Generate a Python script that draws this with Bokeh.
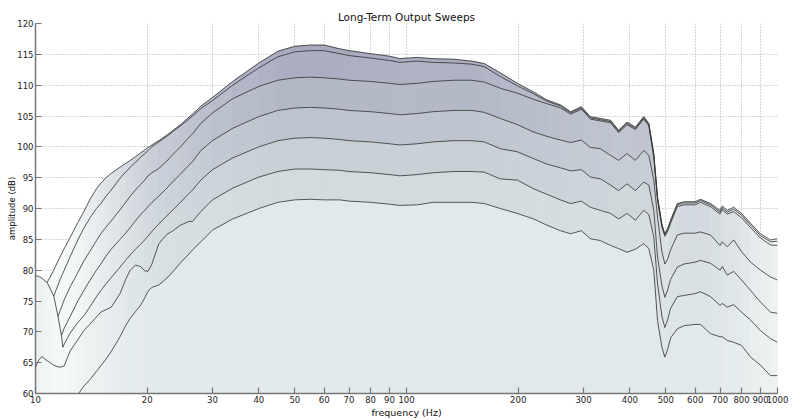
import numpy as np
from bokeh.plotting import figure
from bokeh.models import FixedTicker
from bokeh.embed import file_html
from bokeh.resources import INLINE

# ---------------- data ----------------
freq_hz = [10, 10.2, 10.4, 10.75, 11.2, 11.5, 11.75, 11.85, 11.95, 12.4,
           13.0, 13.5, 14.0, 14.6, 15.0, 15.5, 16.0, 16.9, 17.5, 18.0,
           18.6, 19.2, 19.7, 20.1, 20.6, 21.5, 22.6, 23.5, 24.6, 25.9,
           26.5, 27.9, 30, 34, 40, 45, 50, 55, 60, 66,
           70, 80, 90, 96, 107, 118, 134, 150, 162, 179,
           199, 220, 239, 260, 277, 296, 313, 333, 355, 373,
           393, 414, 436, 450, 464, 475, 488, 497, 506, 515,
           537, 560, 600, 620, 660, 700, 710, 732, 762, 800,
           846, 900, 957, 1000]

sweep_1 = [79.1, 79.0, 78.7, 78.0, 80.0, 81.5, 82.6, 83.1, 83.5, 85.3,
           87.7, 89.5, 91.4, 93.2, 94.1, 95.0, 95.7, 96.7, 97.3, 97.8,
           98.4, 99.0, 99.5, 99.9, 100.3, 101.0, 101.9, 102.7, 103.6, 104.8,
           105.3, 106.6, 108.0, 110.6, 113.6, 115.5, 116.3, 116.5, 116.5, 115.9,
           115.6, 115.1, 114.7, 114.3, 114.5, 114.3, 114.2, 113.9, 113.5, 112.0,
           110.3, 108.9, 107.6, 106.8, 105.7, 106.5, 104.9, 104.6, 104.3, 102.7,
           104.0, 103.2, 104.9, 103.8, 98.9, 91.9, 87.5, 85.9, 86.8, 88.1,
           90.8, 91.1, 91.1, 91.5, 90.8, 89.7, 90.4, 89.7, 90.2, 89.2,
           87.6, 85.9, 84.9, 85.1]

sweep_2 = [79.1, 79.0, 78.7, 78.0, 75.8, 77.6, 79.0, 79.5, 80.0, 82.2,
           84.9, 86.8, 88.4, 90.0, 90.8, 92.0, 93.0, 94.9, 95.9, 96.7,
           97.5, 98.3, 98.9, 99.4, 100.0, 100.8, 101.7, 102.5, 103.4, 104.5,
           105.0, 106.2, 107.5, 110.0, 112.8, 114.6, 115.4, 115.6, 115.6, 115.1,
           114.8, 114.4, 114.0, 113.7, 113.9, 113.7, 113.6, 113.4, 113.0, 111.4,
           109.9, 108.6, 107.4, 106.6, 105.5, 106.3, 104.7, 104.4, 104.1, 102.5,
           103.8, 103.0, 104.7, 103.6, 98.6, 91.6, 87.2, 85.7, 86.6, 87.9,
           90.6, 90.9, 90.9, 91.3, 90.6, 89.4, 90.1, 89.4, 89.9, 88.9,
           87.3, 85.6, 84.6, 84.7]

sweep_3 = [79.1, 79.0, 78.7, 78.0, 75.8, 72.5, 74.0, 74.6, 75.2, 77.3,
           79.6, 81.5, 83.0, 84.8, 85.9, 87.0, 88.0, 89.8, 91.0, 92.0,
           93.0, 93.9, 94.6, 95.3, 95.8, 96.5, 97.7, 98.8, 100.0, 101.5,
           102.1, 103.8, 105.5, 107.8, 109.8, 110.8, 111.2, 111.3, 111.2, 111.0,
           110.8, 110.6, 110.3, 110.1, 110.3, 110.6, 110.8, 110.8, 110.5, 109.5,
           108.7, 107.7, 107.0, 106.3, 105.3, 106.1, 104.5, 104.2, 103.9, 102.3,
           103.6, 102.8, 104.5, 103.4, 98.3, 91.3, 87.0, 85.5, 86.3, 87.6,
           90.3, 90.6, 90.6, 91.0, 90.3, 89.1, 89.8, 89.1, 89.5, 88.5,
           86.9, 85.2, 84.1, 84.0]

sweep_4 = [79.1, 79.0, 78.7, 78.0, 75.8, 72.5, 69.4, 70.0, 70.6, 72.5,
           75.0, 76.7, 78.3, 80.0, 81.0, 82.3, 83.4, 85.0, 86.0, 86.9,
           88.0, 89.0, 89.7, 90.3, 91.0, 92.0, 93.3, 94.4, 95.6, 97.0,
           97.6, 99.4, 101.0, 103.0, 104.9, 105.9, 106.3, 106.4, 106.3, 106.1,
           105.9, 105.7, 105.4, 105.2, 105.4, 105.7, 105.9, 105.9, 105.6, 104.6,
           103.6, 102.4, 101.7, 101.1, 100.7, 101.1, 99.9, 99.7, 98.6, 97.8,
           98.9, 97.8, 99.4, 98.6, 94.6, 88.6, 83.0, 81.0, 81.8, 83.3,
           85.7, 86.0, 86.0, 86.2, 85.7, 84.0, 84.6, 83.8, 84.9, 83.0,
           81.3, 80.0, 78.9, 78.4]

sweep_5 = [79.1, 79.0, 78.7, 78.0, 75.8, 72.5, 69.4, 67.5, 68.0, 69.8,
           71.5, 72.6, 74.0, 75.7, 76.7, 77.8, 78.8, 80.5, 81.6, 82.5,
           83.4, 84.2, 84.9, 85.5, 86.3, 87.5, 88.8, 89.8, 91.0, 92.4,
           93.0, 94.6, 96.3, 98.2, 100.0, 101.0, 101.4, 101.5, 101.4, 101.2,
           101.0, 100.8, 100.5, 100.3, 100.5, 100.8, 101.0, 101.0, 100.8, 99.7,
           99.2, 98.1, 97.2, 96.6, 96.1, 96.3, 95.1, 94.8, 93.8, 92.9,
           94.0, 92.9, 94.3, 93.8, 89.7, 82.1, 77.5, 75.6, 76.8, 78.5,
           80.5, 81.0, 81.3, 81.6, 81.1, 80.0, 80.6, 79.2, 79.8, 78.4,
           76.7, 74.8, 73.2, 73.0]

sweep_6 = [64.2, 65.4, 66.0, 65.3, 64.6, 64.3, 64.3, 64.4, 64.5, 66.9,
           68.7, 70.2, 71.2, 72.4, 73.2, 73.6, 74.0, 76.2, 78.5, 80.0,
           80.8, 80.6, 79.9, 79.8, 81.0, 84.3, 85.8, 86.4, 87.3, 87.9,
           87.9, 89.5, 91.4, 93.3, 95.1, 96.0, 96.4, 96.4, 96.3, 96.2,
           96.0, 95.8, 95.5, 95.3, 95.5, 95.8, 96.0, 96.0, 95.9, 94.8,
           94.6, 93.2, 92.3, 91.4, 90.8, 91.2, 90.2, 89.7, 89.2, 88.3,
           89.2, 88.1, 89.7, 89.0, 85.4, 77.8, 72.5, 70.7, 72.0, 73.8,
           75.7, 75.9, 76.2, 76.5, 75.7, 74.3, 74.6, 74.0, 74.4, 73.2,
           71.9, 70.2, 68.9, 68.3]

sweep_7 = [52.0, 52.5, 53.0, 54.0, 55.0, 55.8, 56.3, 56.5, 56.8, 58.3,
           59.8, 61.2, 62.2, 63.6, 64.5, 65.6, 66.8, 69.2, 71.0, 72.2,
           73.3, 74.3, 75.5, 76.6, 77.2, 77.6, 78.7, 79.8, 81.2, 82.6,
           83.3, 84.6, 86.5, 88.3, 90.0, 91.0, 91.4, 91.5, 91.4, 91.4,
           91.2, 91.0, 90.7, 90.5, 90.6, 91.0, 91.0, 91.0, 90.8, 90.0,
           89.2, 88.3, 87.3, 86.4, 85.9, 86.4, 85.1, 84.8, 84.0, 83.5,
           82.9, 83.4, 84.3, 83.5, 80.0, 71.8, 67.5, 65.9, 67.2, 69.0,
           70.5, 71.0, 71.2, 71.2, 69.7, 69.2, 69.2, 68.6, 68.3, 67.8,
           65.9, 64.6, 62.9, 62.9]

sweeps = [sweep_1, sweep_2, sweep_3, sweep_4, sweep_5, sweep_6, sweep_7]
x_ticks = [10, 20, 30, 40, 50, 60, 70, 80, 90, 100,
           200, 300, 400, 500, 600, 700, 800, 900, 1000]
y_ticks = [60, 65, 70, 75, 80, 85, 90, 95, 100, 105, 110, 115, 120]

# ---------------- style ----------------
FONT = "DejaVu Sans"
W, H = 800, 420
B_LEFT, B_RIGHT, B_TOP, B_BOTTOM = 35, 23, 23, 27

base_rgb = [(167, 169, 189), (171, 174, 193), (179, 184, 199), (190, 196, 207),
            (200, 208, 214), (210, 219, 222), (226, 233, 234)]
ref_level = [116.5, 115.6, 111.3, 106.4, 101.5, 96.4, 91.5]
light_rgb = np.array([226, 233, 234], float)
white_rgb = np.array([250, 252, 252], float)
wash_f = np.log10([10, 11.5, 12.5, 14, 16, 19, 22, 650, 800, 900, 1000])
wash_v = [0.5, 0.85, 0.75, 0.5, 0.3, 0.1, 0.0, 0.0, 0.2, 0.4, 0.5]

p = figure(width=W, height=H, x_axis_type="log", x_range=(10, 1000), y_range=(60, 120),
           output_backend="svg", toolbar_location=None,
           min_border_left=B_LEFT, min_border_right=B_RIGHT,
           min_border_top=B_TOP, min_border_bottom=B_BOTTOM,
           title="Long-Term Output Sweeps",
           x_axis_label="frequency (Hz)", y_axis_label="amplitude (dB)")
p.outline_line_color = None
p.background_fill_color = "white"
p.border_fill_color = "white"

p.title.align = "center"
p.title.text_font = FONT
p.title.text_font_size = "10.5px"
p.title.text_font_style = "normal"
p.title.text_color = "#111111"
p.title.standoff = 2

# filled sweeps (one small patch per segment so the shade follows level/frequency)
f = np.array(freq_hz, float)
floor = 40.0
xs, ys, cols = [], [], []
for k, sw in enumerate(sweeps):
    a = np.array(sw, float)
    base = np.array(base_rgb[k], float)
    for i in range(len(f) - 1):
        lvl = 0.5 * (a[i] + a[i + 1])
        fm = np.sqrt(f[i] * f[i + 1])
        c = base.copy()
        if k < 6:
            t = np.clip((ref_level[k] - lvl) / 30.0, 0, 1)
            c = c + (light_rgb - c) * t
        h = np.interp(np.log10(fm), wash_f, wash_v)
        c = c + (white_rgb - c) * h
        xs.append([f[i], f[i], f[i + 1], f[i + 1]])
        ys.append([floor, a[i], a[i + 1], floor])
        cols.append("#%02x%02x%02x" % tuple(int(round(v)) for v in c))
p.patches(xs, ys, fill_color=cols, line_color=cols, line_width=0.6)

# outlines: where a sweep runs exactly on the one above it, draw it only once
prev = None
for sw in sweeps:
    a = np.array(sw, float)
    if prev is not None:
        same = np.isclose(a, prev)
        keep = ~same
        keep[:-1] |= ~same[1:]
        keep[1:] |= ~same[:-1]
        a = np.where(keep, a, np.nan)
    p.line(freq_hz, list(a), line_color="#333333", line_width=0.9, line_alpha=0.9)
    prev = np.array(sw, float)

# axes
for ax, ticks in ((p.xaxis[0], x_ticks), (p.yaxis[0], y_ticks)):
    ax.ticker = FixedTicker(ticks=ticks, minor_ticks=[])
    ax.major_label_overrides = {t: str(t) for t in ticks}
    ax.major_tick_in = 6
    ax.major_tick_out = 0
    ax.minor_tick_line_color = None
    ax.axis_line_color = "#777777"
    ax.axis_line_width = 1.5
    ax.major_tick_line_color = "#777777"
    ax.major_tick_line_width = 1.2
    ax.major_label_text_font = FONT
    ax.major_label_text_font_size = "8.5px"
    ax.major_label_text_color = "#222222"
    ax.major_label_standoff = 2
    ax.axis_label_text_font = FONT
    ax.axis_label_text_font_style = "normal"
    ax.axis_label_text_color = "#111111"
    ax.axis_label_standoff = 1
p.xaxis.axis_label_text_font_size = "9.5px"
p.yaxis.axis_label_text_font_size = "8.5px"
p.yaxis.axis_label_standoff = -3

p.xgrid.ticker = FixedTicker(ticks=x_ticks)
p.ygrid.ticker = FixedTicker(ticks=y_ticks)
for g in (p.xgrid[0], p.ygrid[0]):
    g.grid_line_color = "#8c8c8c"
    g.grid_line_dash = "1 2"
    g.grid_line_width = 0.8
    g.grid_line_alpha = 0.9

open("out.html", "w").write(file_html(p, INLINE))
